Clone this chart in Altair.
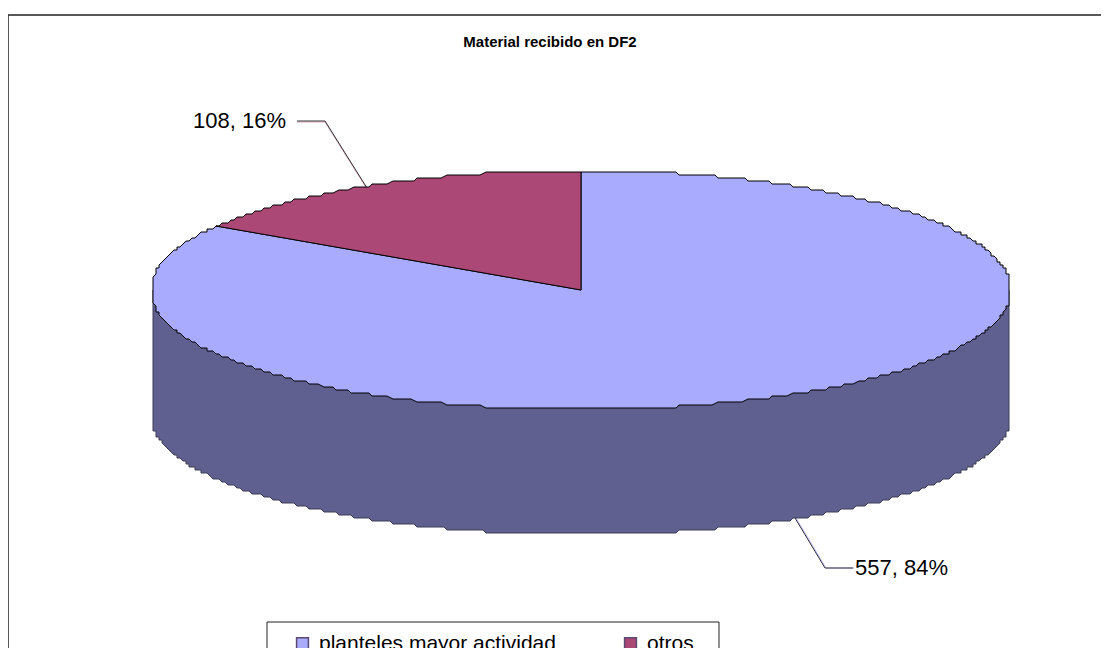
import numpy as np
import pandas as pd
import altair as alt

TITLE = "Material recibido en DF2"
CATEGORIES = ["planteles mayor actividad", "otros"]
VALUES = [557, 108]
LABELS = ["557, 84%", "108, 16%"]
COLORS = ["#A9ABFF", "#AB4876"]
WALL = "#5F6090"

# layout of the drawing, in page pixels
CX, CY, A, B, DEPTH, GRID = 581, 290, 428, 118, 125, 3
W, H = 1093, 640
xs = alt.Scale(domain=[8, 8 + W], range=[0, W], nice=False, zero=False)
ys = alt.Scale(domain=[8, 8 + H], range=[0, H], nice=False, zero=False)
X = lambda f="x": alt.X(f + ":Q", scale=xs, axis=None)
Y = lambda f="y": alt.Y(f + ":Q", scale=ys, axis=None)


def rim(t):
    """Point on the stepped rim at clock angle t (radians, clockwise from the top)."""
    s, c = round(float(np.sin(t)), 9), round(float(np.cos(t)), 9)
    ex = A - GRID * np.floor(A * (1 - abs(s)) / GRID)
    ey = B - GRID * np.floor(B * (1 - abs(c)) / GRID)
    return CX + np.sign(s) * ex, CY - np.sign(c) * ey


def arc(t0, t1, step=np.radians(0.6)):
    n = max(2, int(abs(t1 - t0) / step) + 1)
    return [rim(t) for t in np.linspace(t0, t1, n)]


def frame(points, name=None):
    df = pd.DataFrame(points, columns=["x", "y"])
    df["o"] = range(len(df))
    if name is not None:
        df["slice"] = name
    return df


total = sum(VALUES)
split = 2 * np.pi * (1 - VALUES[1] / total)  # boundary between the slices

front = arc(np.pi / 2, 3 * np.pi / 2)
wall_pts = [(CX + A, CY)] + [(x, y + DEPTH) for x, y in front] + [(CX - A, CY)]
wall = alt.Chart(frame(wall_pts)).mark_line(
    fill=WALL, stroke="#3c3c55", strokeWidth=1, strokeJoin="miter"
).encode(x=X(), y=Y(), order="o:Q")

blue = frame([(CX, CY)] + arc(0, split) + [(CX, CY)], CATEGORIES[0])
purple = frame([(CX, CY)] + arc(split, 2 * np.pi) + [(CX, CY)], CATEGORIES[1])
faces = alt.Chart(pd.concat([blue, purple], ignore_index=True)).mark_line(
    stroke="black", strokeWidth=1, strokeJoin="miter"
).encode(
    x=X(), y=Y(), order="o:Q",
    fill=alt.Fill(
        "slice:N",
        scale=alt.Scale(domain=CATEGORIES, range=COLORS),
        legend=alt.Legend(
            title=None, orient="none", legendX=284, legendY=625,
            direction="horizontal", columns=2, columnPadding=64,
            symbolType="square", symbolSize=140, symbolStrokeWidth=1.5,
            symbolStrokeColor="#5a4a70", symbolOpacity=1,
            labelFont="Liberation Sans", labelFontSize=21, labelColor="black",
            labelOffset=6, padding=0, labelLimit=400,
        ),
    ),
)


def leader(points, color, width=1.0):
    return alt.Chart(frame(points)).mark_line(
        stroke=color, strokeWidth=width
    ).encode(x=X(), y=Y(), order="o:Q")


lead_a = [(297, 121), (325, 121), (367, 188)]
lead_b = [(795, 518), (825, 568), (853, 568)]
leaders = (
    leader([(x, y + 1) for x, y in lead_a], "#d9a0b8")
    + leader(lead_a, "#333333")
    + leader([(x + 1, y) for x, y in lead_b], "#b8b9ff")
    + leader(lead_b, "#333333")
)


def text(s, x, y, size, align="left", bold=False):
    return alt.Chart(pd.DataFrame({"x": [x], "y": [y], "t": [s]})).mark_text(
        font="Liberation Sans", fontSize=size, align=align, baseline="middle",
        fontWeight="bold" if bold else "normal", color="black",
    ).encode(x=X(), y=Y(), text="t:N")


texts = (
    text(TITLE, 550, 42, 15, "center", True)
    + text(LABELS[1], 286, 121, 22, "right")
    + text(LABELS[0], 855, 568, 22, "left")
)


def box(x, x2, y, y2, width):
    return alt.Chart(pd.DataFrame({"x": [x], "x2": [x2], "y": [y], "y2": [y2]})).mark_rect(
        fill="white", stroke="#222222", strokeWidth=width
    ).encode(x=X(), x2="x2:Q", y=Y(), y2="y2:Q")


chart = (box(8, 1200, 15, 700, 1.5) + box(267, 719, 622, 700, 1) + leaders + wall + faces + texts).properties(
    width=W, height=H, padding=0,
    autosize=alt.AutoSizeParams(type="none"),
).configure(background="white", view=alt.ViewConfig(stroke=None))

chart.save("out.html", embed_options={"renderer": "svg", "actions": False})
